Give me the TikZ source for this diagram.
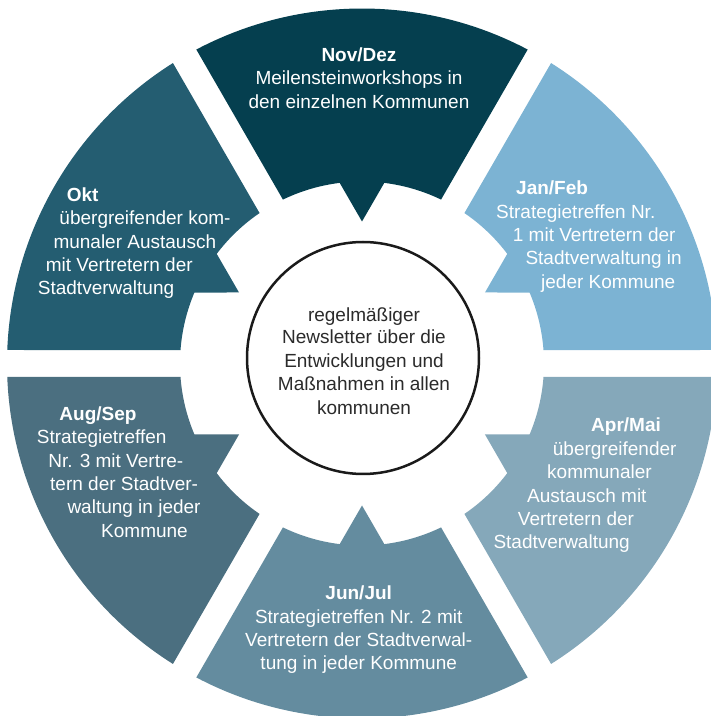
\documentclass[tikz,border=0pt]{standalone}
\usepackage{fontspec}
\setmainfont{Liberation Sans}
\usetikzlibrary{calc}
\definecolor{cNov}{HTML}{053F4F}
\definecolor{cOkt}{HTML}{245D71}
\definecolor{cJan}{HTML}{7CB3D3}
\definecolor{cApr}{HTML}{85A8BA}
\definecolor{cJun}{HTML}{648C9F}
\definecolor{cAug}{HTML}{4B6F80}
\definecolor{ctext}{HTML}{2B2B2B}
\definecolor{cring}{HTML}{1A1A1A}
% #1 = centre angle of the segment, #2 = colour
\newcommand{\ringseg}[2]{%
  \fill[#2] ($(C)+(#1+27.82:355)$)
    arc[start angle=#1+27.82, end angle=#1-27.82, radius=355pt]
    -- ($(C)+(#1-25.75:182)$)
    arc[start angle=#1-25.75, end angle=#1-7.04, radius=182pt]
    -- ($(C)+(#1:142)$)
    -- ($(C)+(#1+7.04:182)$)
    arc[start angle=#1+7.04, end angle=#1+25.75, radius=182pt]
    -- cycle;}
\begin{document}
\begin{tikzpicture}[x=1pt,y=1pt,
  lbl/.style={text=white, font=\fontsize{19}{23.3}\selectfont, inner sep=0pt, anchor=base west},
  lblc/.style={lbl, anchor=base},
  hd/.style={font=\fontsize{19}{23.3}\selectfont\bfseries},
  ctr/.style={text=ctext, font=\fontsize{19}{23.3}\selectfont, inner sep=0pt, anchor=base}]
\useasboundingbox (0,0) rectangle (711,716);
\coordinate (C) at (362,352.5);
\ringseg{90}{cNov}
\ringseg{30}{cJan}
\ringseg{-30}{cApr}
\ringseg{-90}{cJun}
\ringseg{-150}{cAug}
\ringseg{150}{cOkt}
% centre circle
\node[circle, draw=cring, line width=2.5pt, fill=white, minimum size=232pt, inner sep=0pt] (hub) at (363,358) {};
\node[ctr] (h1) at (364,394.3) {regelmäßiger};
\node[ctr] (h2) at (364,372) {Newsletter über die};
\node[ctr] (h3) at (364,348.7) {Entwicklungen und};
\node[ctr] (h4) at (364,325) {Maßnahmen in allen};
\node[ctr] (h5) at (364,301.7) {kommunen};
% Nov/Dez
\node[lblc, hd] (n1) at (359,654.3) {Nov/Dez};
\node[lblc] (n2) at (359,631) {Meilensteinworkshops in};
\node[lblc] (n3) at (359,607.7) {den einzelnen Kommunen};
% Okt
\node[lbl, hd] (o1) at (66.7,514.3) {Okt};
\node[lbl] (o2) at (59.3,491) {übergreifender kom-};
\node[lbl] (o3) at (53.3,467.7) {munaler Austausch};
\node[lbl] (o4) at (45.7,444.3) {mit Vertretern der};
\node[lbl] (o5) at (37.7,421) {Stadtverwaltung};
% Jan/Feb
\node[lbl, hd] (j1) at (516,521) {Jan/Feb};
\node[lbl] (j2) at (496,497.7) {Strategietreffen Nr.};
\node[lbl] (j3) at (512.7,474.3) {1 mit Vertretern der};
\node[lbl] (j4) at (525.3,451) {Stadtverwaltung in};
\node[lbl] (j5) at (541,427.7) {jeder Kommune};
% Apr/Mai
\node[lbl, hd] (a1) at (591,284.3) {Apr/Mai};
\node[lbl] (a2) at (552.7,260) {übergreifender};
\node[lbl] (a3) at (547,237) {kommunaler};
\node[lbl] (a4) at (527,213.7) {Austausch mit};
\node[lbl] (a5) at (517.7,190.3) {Vertretern der};
\node[lbl] (a6) at (493.3,167) {Stadtverwaltung};
% Jun/Jul
\node[lblc, hd] (u1) at (358.7,116) {Jun/Jul};
\node[lblc] (u2) at (358.7,92.3) {Strategietreffen Nr. 2 mit};
\node[lblc] (u3) at (358.7,69) {Vertretern der Stadtverwal-};
\node[lblc] (u4) at (358.7,46.7) {tung in jeder Kommune};
% Aug/Sep
\node[lbl, hd] (s1) at (59.3,295.3) {Aug/Sep};
\node[lbl] (s2) at (36.7,272) {Strategietreffen};
\node[lbl] (s3) at (48.3,248.7) {Nr. 3 mit Vertre-};
\node[lbl] (s4) at (50,225.3) {tern der Stadtver-};
\node[lbl] (s5) at (67.3,202) {waltung in jeder};
\node[lbl] (s6) at (101,178.7) {Kommune};
\end{tikzpicture}
\end{document}
